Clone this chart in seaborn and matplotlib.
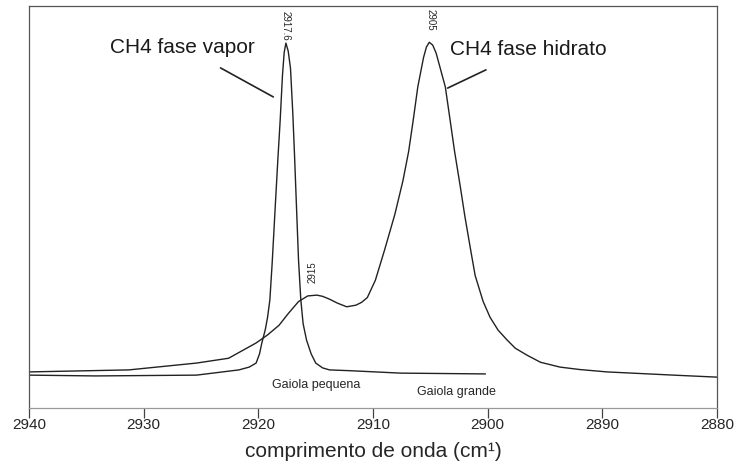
import numpy as np
import pandas as pd
import matplotlib
matplotlib.use('Agg')
import matplotlib.pyplot as plt
import seaborn as sns

# 스펙트럼 값
vapor_wn = [2940.0, 2934.2, 2925.4, 2921.7, 2920.8, 2920.2, 2919.9, 2919.7, 2919.4,
            2919.2, 2919.0, 2918.8, 2918.5, 2918.3, 2918.1, 2917.9, 2917.75, 2917.6,
            2917.4, 2917.2, 2917.0, 2916.85, 2916.7, 2916.5, 2916.3, 2916.1, 2915.8,
            2915.4, 2915.0, 2914.4, 2913.8, 2912.0, 2907.6, 2900.2]
vapor_int = [0.082, 0.080, 0.082, 0.095, 0.102, 0.112, 0.135, 0.162, 0.195,
             0.226, 0.269, 0.360, 0.517, 0.620, 0.716, 0.828, 0.885, 0.908,
             0.888, 0.845, 0.734, 0.630, 0.517, 0.368, 0.269, 0.210, 0.169,
             0.135, 0.112, 0.100, 0.095, 0.093, 0.087, 0.085]

hydrate_wn = [2940.0, 2931.3, 2925.4, 2922.6, 2920.2, 2919.2, 2918.2, 2917.4, 2916.5,
              2915.7, 2914.9, 2914.4, 2913.8, 2913.1, 2912.3, 2911.5, 2911.0, 2910.5,
              2909.8, 2909.0, 2908.1, 2907.4, 2906.9, 2906.5, 2906.1, 2905.6, 2905.35,
              2905.1, 2904.8, 2904.5, 2903.7, 2903.3, 2902.9, 2902.4, 2902.0, 2901.5,
              2901.1, 2900.4, 2899.8, 2899.1, 2898.3, 2897.6, 2896.6, 2895.4, 2893.7,
              2892.0, 2889.6, 2883.8, 2880.0]
hydrate_int = [0.090, 0.095, 0.112, 0.124, 0.162, 0.182, 0.206, 0.235, 0.265,
               0.279, 0.281, 0.278, 0.271, 0.261, 0.252, 0.256, 0.263, 0.275,
               0.318, 0.393, 0.482, 0.565, 0.638, 0.716, 0.799, 0.872, 0.898,
               0.910, 0.903, 0.883, 0.799, 0.720, 0.640, 0.552, 0.478, 0.395,
               0.330, 0.265, 0.226, 0.194, 0.169, 0.149, 0.132, 0.114, 0.102,
               0.096, 0.090, 0.082, 0.077]

x_ticks = [2940, 2930, 2920, 2910, 2900, 2890, 2880]

df_v = pd.DataFrame({'wn': vapor_wn, 'I': vapor_int})
df_h = pd.DataFrame({'wn': hydrate_wn, 'I': hydrate_int})

sns.set_style('white')
plt.rcParams['font.family'] = ['Liberation Sans', 'DejaVu Sans']

fig = plt.figure(figsize=(7.37, 4.68), dpi=100)
ax = fig.add_axes([0.0394, 0.128, 0.9336, 0.859])

sns.lineplot(data=df_v, x='wn', y='I', ax=ax, color='#222222', lw=1.0, estimator=None)
sns.lineplot(data=df_h, x='wn', y='I', ax=ax, color='#222222', lw=1.0, estimator=None)

ax.set_xlim(2940, 2880)
ax.set_ylim(0, 1)
ax.set_xticks(x_ticks)
ax.set_xticklabels([str(t) for t in x_ticks], fontsize=11)
ax.set_yticks([])
ax.set_ylabel('')
ax.set_xlabel('comprimento de onda (cm¹)', fontsize=15, labelpad=7)
ax.tick_params(axis='x', bottom=True, direction='out', length=7, width=0.9,
               color='#444444', pad=0)

for s in ['top', 'right', 'left', 'bottom']:
    ax.spines[s].set_color('#555555')
    ax.spines[s].set_linewidth(0.9)
ax.spines['bottom'].set_color('#999999')

# 피크 라벨
ax.text(2917.6, 0.952, '2917.6', rotation=270, ha='center', va='center', fontsize=7)
ax.text(2905.0, 0.965, '2905', rotation=270, ha='center', va='center', fontsize=7)
ax.text(2915.3, 0.338, '2915', rotation=90, ha='center', va='center', fontsize=7)

# 주석
ax.annotate('CH4 fase vapor', xy=(2918.7, 0.774), xytext=(2926.6, 0.898),
            ha='center', va='center', fontsize=15, color='#1a1a1a',
            arrowprops=dict(arrowstyle='-', color='#222222', lw=1.2,
                            shrinkA=12, shrinkB=0))
ax.annotate('CH4 fase hidrato', xy=(2903.5, 0.796), xytext=(2896.5, 0.891),
            ha='center', va='center', fontsize=15, color='#1a1a1a',
            arrowprops=dict(arrowstyle='-', color='#222222', lw=1.2,
                            shrinkA=12, shrinkB=0))

ax.text(2915.0, 0.057, 'Gaiola pequena', ha='center', va='center', fontsize=9)
ax.text(2902.7, 0.040, 'Gaiola grande', ha='center', va='center', fontsize=9)

fig.savefig('out.png', dpi=100)
